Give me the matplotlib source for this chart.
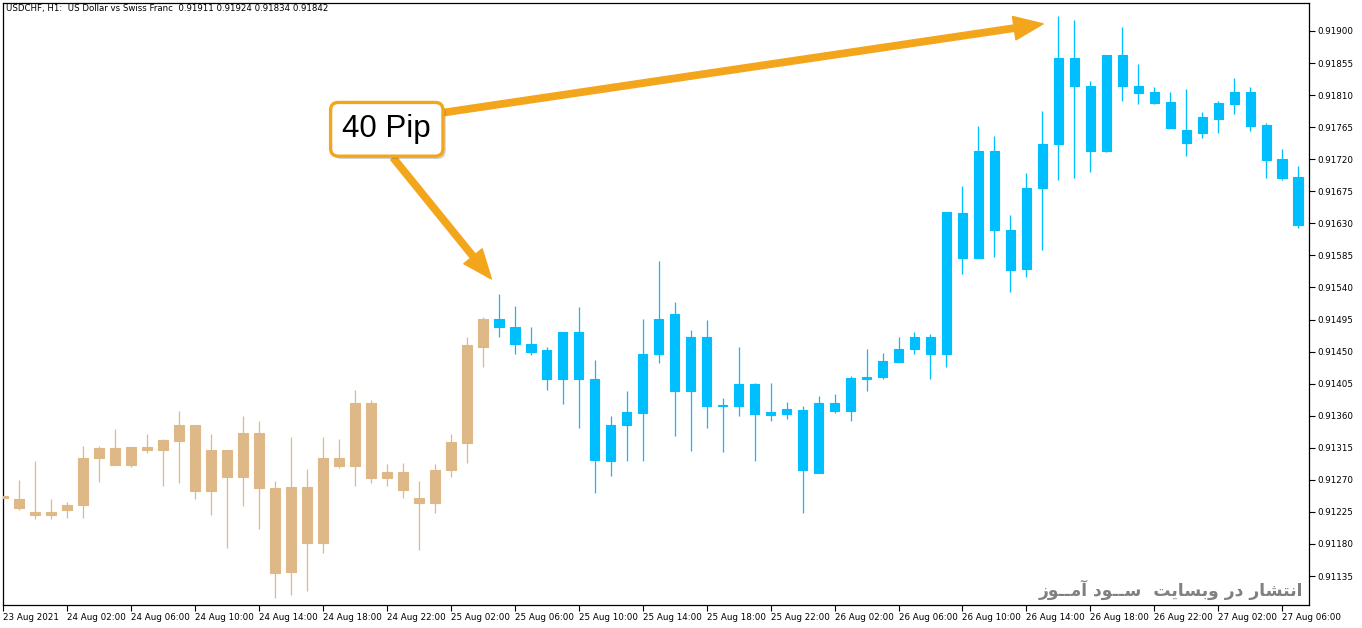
import numpy as np
import pandas as pd
import matplotlib
matplotlib.use("Agg")
import matplotlib.pyplot as plt
from matplotlib.patches import FancyArrowPatch
import matplotlib.patheffects as pe

# USDCHF H1 candles (23 Aug 22:00 .. 27 Aug 07:00)
opens = [0.91247, 0.91243, 0.91225, 0.91221, 0.91228, 0.91234, 0.91300, 0.91315, 0.91291, 0.91312,
         0.91312, 0.91325, 0.91347, 0.91255, 0.91312, 0.91274, 0.91336, 0.91258, 0.91140, 0.91260,
         0.91182, 0.91300, 0.91290, 0.91378, 0.91273, 0.91281, 0.91245, 0.91238, 0.91284, 0.91321,
         0.91457, 0.91496, 0.91485, 0.91461, 0.91452, 0.91411, 0.91478, 0.91412, 0.91297, 0.91347,
         0.91364, 0.91447, 0.91503, 0.91470, 0.91470, 0.91373, 0.91373, 0.91404, 0.91361, 0.91363,
         0.91368, 0.91279, 0.91378, 0.91366, 0.91412, 0.91414, 0.91436, 0.91453, 0.91470, 0.91446,
         0.91645, 0.91582, 0.91732, 0.91621, 0.91566, 0.91679, 0.91742, 0.91862, 0.91823, 0.91732,
         0.91866, 0.91823, 0.91814, 0.91800, 0.91761, 0.91757, 0.91776, 0.91798, 0.91814, 0.91768,
         0.91720, 0.91695]
highs = [0.91250, 0.91270, 0.91297, 0.91243, 0.91239, 0.91317, 0.91318, 0.91342, 0.91316, 0.91334,
         0.91328, 0.91367, 0.91347, 0.91334, 0.91312, 0.91360, 0.91353, 0.91269, 0.91330, 0.91285,
         0.91330, 0.91328, 0.91396, 0.91382, 0.91292, 0.91293, 0.91268, 0.91292, 0.91334, 0.91470,
         0.91498, 0.91531, 0.91514, 0.91484, 0.91456, 0.91478, 0.91513, 0.91438, 0.91360, 0.91395,
         0.91496, 0.91577, 0.91519, 0.91480, 0.91494, 0.91385, 0.91457, 0.91406, 0.91406, 0.91379,
         0.91373, 0.91388, 0.91391, 0.91416, 0.91454, 0.91448, 0.91470, 0.91477, 0.91474, 0.91646,
         0.91683, 0.91767, 0.91753, 0.91642, 0.91700, 0.91788, 0.91921, 0.91915, 0.91830, 0.91866,
         0.91906, 0.91854, 0.91822, 0.91815, 0.91819, 0.91786, 0.91802, 0.91834, 0.91822, 0.91771,
         0.91735, 0.91710]
lows = [0.91243, 0.91228, 0.91215, 0.91215, 0.91216, 0.91216, 0.91267, 0.91291, 0.91288, 0.91307,
        0.91261, 0.91266, 0.91243, 0.91221, 0.91174, 0.91233, 0.91201, 0.91104, 0.91109, 0.91114,
        0.91167, 0.91287, 0.91262, 0.91265, 0.91262, 0.91245, 0.91172, 0.91223, 0.91274, 0.91294,
        0.91428, 0.91470, 0.91447, 0.91445, 0.91396, 0.91376, 0.91343, 0.91252, 0.91275, 0.91297,
        0.91297, 0.91434, 0.91332, 0.91311, 0.91343, 0.91309, 0.91359, 0.91297, 0.91352, 0.91356,
        0.91224, 0.91279, 0.91364, 0.91352, 0.91394, 0.91412, 0.91436, 0.91446, 0.91411, 0.91429,
        0.91559, 0.91582, 0.91583, 0.91533, 0.91554, 0.91592, 0.91691, 0.91694, 0.91702, 0.91730,
        0.91802, 0.91798, 0.91797, 0.91764, 0.91724, 0.91750, 0.91757, 0.91783, 0.91759, 0.91693,
        0.91691, 0.91624]
closes = [0.91245, 0.91231, 0.91221, 0.91225, 0.91235, 0.91301, 0.91315, 0.91291, 0.91316, 0.91316,
          0.91326, 0.91347, 0.91255, 0.91312, 0.91274, 0.91336, 0.91259, 0.91139, 0.91260, 0.91182,
          0.91300, 0.91290, 0.91378, 0.91273, 0.91281, 0.91256, 0.91238, 0.91284, 0.91323, 0.91459,
          0.91496, 0.91484, 0.91460, 0.91450, 0.91411, 0.91478, 0.91411, 0.91298, 0.91347, 0.91365,
          0.91447, 0.91496, 0.91394, 0.91394, 0.91373, 0.91375, 0.91404, 0.91363, 0.91365, 0.91369,
          0.91284, 0.91378, 0.91366, 0.91413, 0.91414, 0.91437, 0.91453, 0.91470, 0.91446, 0.91646,
          0.91582, 0.91732, 0.91620, 0.91564, 0.91680, 0.91742, 0.91862, 0.91823, 0.91732, 0.91866,
          0.91823, 0.91813, 0.91799, 0.91764, 0.91743, 0.91779, 0.91799, 0.91814, 0.91767, 0.91719,
          0.91694, 0.91627]

first_time = "2021-08-23 22:00"
tan_count = 31          # first candles are drawn in tan, the rest in blue
header = "USDCHF, H1:  US Dollar vs Swiss Franc  0.91911 0.91924 0.91834 0.91842"
callout = "40 Pip"
# "انتشار در وبسایت  ســود آمــوز" written with Arabic presentation forms in visual order,
# because matplotlib does no Arabic shaping / bidi on its own
watermark = ("\uFEAF\uFEEE\u0640\u0640\uFEE3\uFE81 \uFEA9\uFEEE\u0640\u0640\uFEB3  "
             "\uFE96\uFEF3\uFE8E\uFEB4\uFE91\uFEED \uFEAD\uFEA9 "
             "\uFEAD\uFE8E\uFEB8\uFE98\uFEE7\uFE8D")

tan = "#DEB887"
blue = "#00BFFF"
orange = "#F3A61B"

n = len(opens)
idx = np.arange(n)
times = pd.date_range(first_time, periods=n, freq="h")
colors = [tan if i < tan_count else blue for i in range(n)]

o = np.array(opens)
c = np.array(closes)
body_low = np.minimum(o, c)
body_h = np.abs(c - o)

fig = plt.figure(figsize=(13.62, 6.28), dpi=100)
ax = fig.add_axes([3 / 1362, 23 / 628, 1306 / 1362, 602 / 628])

ax.vlines(idx, lows, highs, colors=colors, linewidth=0.9, zorder=2)
ax.bar(idx, body_h, width=0.6, bottom=body_low, color=colors, edgecolor=colors,
       linewidth=0.8, zorder=3)

ax.set_xlim(0.044, 81.67)
ax.set_ylim(0.910943, 0.919393)

# price axis on the right
yt = np.round(np.arange(91135, 91901, 45) / 1e5, 5)
ax.yaxis.tick_right()
ax.set_yticks(yt)
ax.set_yticklabels([f"{v:.5f}" for v in yt])

# time axis: a label every 4 hours
tick_pos = [0] + [i for i in range(n) if times[i].hour % 4 == 2 and i > 0]
tick_lab = ["23 Aug 2021"] + [f"{times[i].day} {times[i].strftime('%b %H:%M')}" for i in tick_pos[1:]]
ax.set_xticks(tick_pos)
ax.set_xticklabels(tick_lab, ha="left")

ax.tick_params(axis="both", direction="out", length=4, width=0.8, labelsize=6.3,
               pad=2, colors="black")
for s in ax.spines.values():
    s.set_linewidth(0.9)
    s.set_color("black")

fig.text(6 / 1362, 1 - 9 / 628, header, fontsize=6.2, va="center", ha="left")

# callout + arrows
box_xy = (24.0, 0.91762)
arrows = [((27.4, 0.91785), (65.04, 0.91910)),
          ((24.4, 0.91722), (30.54, 0.91552))]
for tail, tip in arrows:
    ar = FancyArrowPatch(tail, tip,
                         arrowstyle="simple,head_length=21,head_width=17,tail_width=4.6",
                         mutation_scale=1, color=orange, shrinkA=0, shrinkB=0, zorder=5)
    ax.add_patch(ar)

t = ax.text(box_xy[0], box_xy[1], callout, fontsize=22.5, family="Liberation Sans",
            ha="center", va="center", zorder=6,
            bbox=dict(boxstyle="round,pad=0.38,rounding_size=0.25", fc="white",
                      ec=orange, lw=2.4))
t.get_bbox_patch().set_path_effects([pe.SimplePatchShadow(offset=(2, -2), alpha=0.25),
                                     pe.Normal()])

fig.text(1303 / 1362, 1 - 590 / 628, watermark, fontsize=12.3, color="#808080",
         fontweight="bold", ha="right", va="center", family=["DejaVu Sans"])

fig.savefig("out.png", dpi=100)
